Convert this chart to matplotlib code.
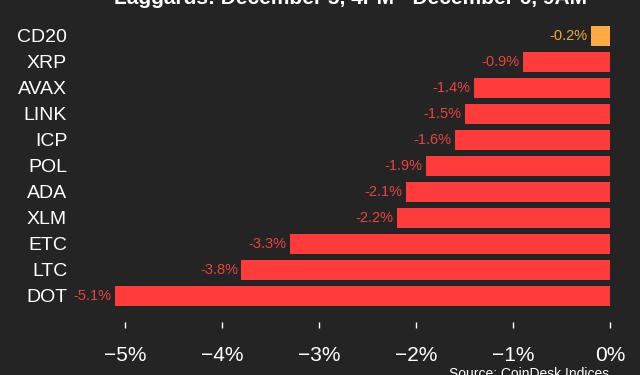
import matplotlib.pyplot as plt

# Laggards, CoinDesk 20 members
coins = ['CD20', 'XRP', 'AVAX', 'LINK', 'ICP', 'POL', 'ADA', 'XLM', 'ETC', 'LTC', 'DOT']
changes = [-0.2, -0.9, -1.4, -1.5, -1.6, -1.9, -2.1, -2.2, -3.3, -3.8, -5.1]
ticks = [-5, -4, -3, -2, -1, 0]
tick_labels = ['\u22125%', '\u22124%', '\u22123%', '\u22122%', '\u22121%', '0%']

bg = '#242424'
red = '#ff3b3b'
orange = '#ffab45'

plt.rcParams['font.family'] = ['Liberation Sans', 'DejaVu Sans']

W, H = 640, 375
fig = plt.figure(figsize=(6.4, 3.75), dpi=100, facecolor=bg)

# axes placed in pixels: 0% at x=610, 97 px per 1%
xmin, xmax = -5.26, 0.02
left_px = 610 + xmin * 97
right_px = 610 + xmax * 97
top_px, bottom_px = 23, 322
ax = fig.add_axes([left_px / W, 1 - bottom_px / H,
                   (right_px - left_px) / W, (bottom_px - top_px) / H])
ax.set_facecolor(bg)

colors = [orange if c == 'CD20' else red for c in coins]
pos = list(range(len(coins)))
ax.barh(pos, changes, height=0.78, color=colors)

for i, (v, c) in enumerate(zip(changes, colors)):
    tc = '#f2a84a' if c == orange else '#e8433f'
    ax.annotate(f'{v:.1f}%', (v, i), xytext=(-2.5, 0), textcoords='offset points',
                ha='right', va='center', color=tc, fontsize=10.5)

ax.set_xlim(xmin, xmax)
ax.set_ylim(11, -0.5)
ax.set_yticks(pos)
ax.set_yticklabels(coins)
ax.set_xticks(ticks)
ax.set_xticklabels(tick_labels)

for s in ax.spines.values():
    s.set_visible(False)
ax.tick_params(axis='y', length=0, pad=23.5, labelsize=14, labelcolor='white')
ax.tick_params(axis='x', length=4, width=1, color='white', direction='out',
               pad=13, labelsize=15, labelcolor='white')

fig.text(0.547, 1 - 4 / H, 'Laggards: December 5, 4PM - December 6, 9AM',
         ha='center', va='baseline', color='white', fontsize=15, fontweight='bold')
fig.text(609 / W, -3 / H, 'Source: CoinDesk Indices', ha='right', va='baseline',
         color='white', fontsize=10)

fig.savefig('out.png', dpi=100, facecolor=bg)
